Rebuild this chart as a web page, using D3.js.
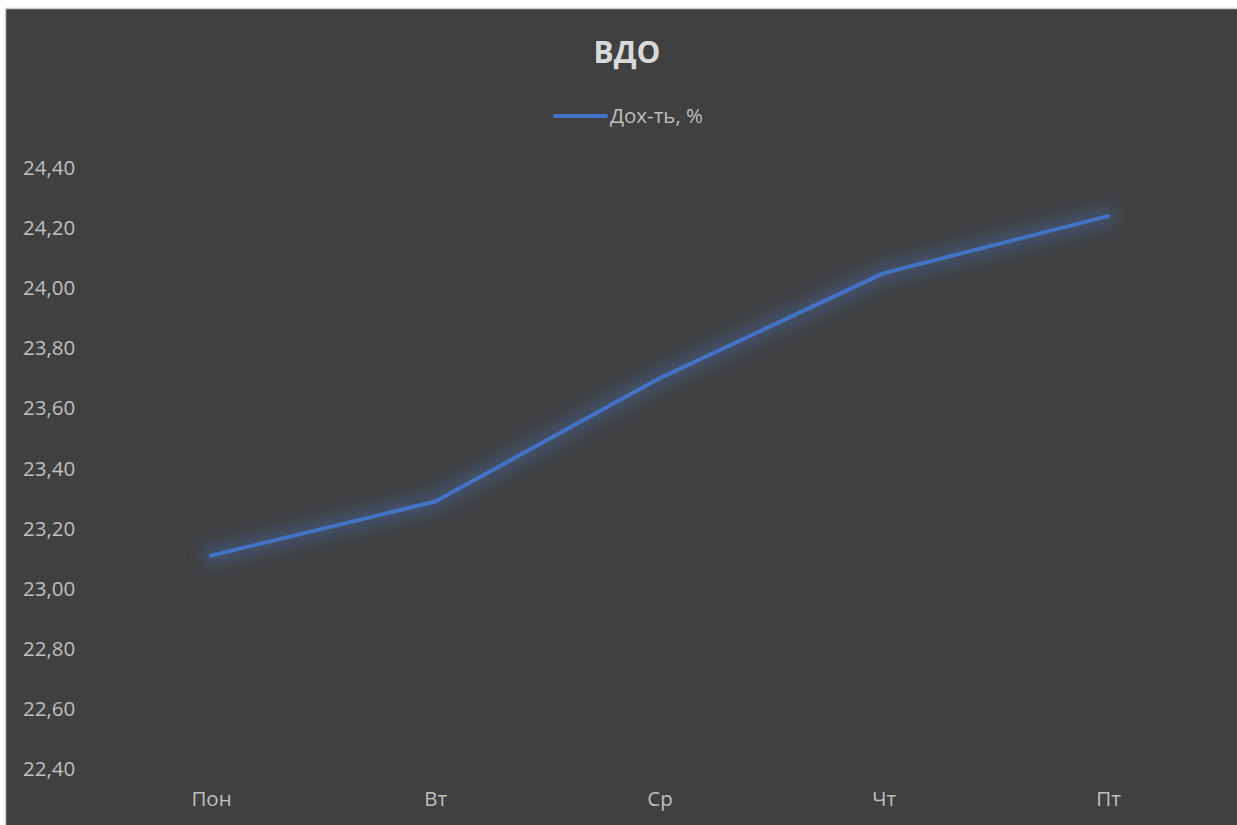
<!DOCTYPE html>
<html>
<head>
<meta charset="utf-8">
<script src="https://cdn.jsdelivr.net/npm/d3@7"></script>
<style>
  html, body { margin: 0; padding: 0; background: #ffffff; }
  svg { display: block; }
</style>
</head>
<body>
<div id="chart"></div>
<script>
const days = ["Пон", "Вт", "Ср", "Чт", "Пт"];
const yieldPct = [23.11, 23.29, 23.70, 24.05, 24.24];
const yTicks = [22.4, 22.6, 22.8, 23.0, 23.2, 23.4, 23.6, 23.8, 24.0, 24.2, 24.4];
const seriesName = "Дох-ть, %";
const title = "ВДО";

const width = 1237;
const height = 825;
const font = "'Open Sans', 'Noto Sans', sans-serif";

const svg = d3.select("#chart")
  .append("svg")
  .attr("width", width)
  .attr("height", height);

// chart area with thin light frame
svg.append("rect")
  .attr("x", 5.5).attr("y", 8.5)
  .attr("width", width).attr("height", height)
  .attr("fill", "#404040")
  .attr("stroke", "#d0d0d0")
  .attr("stroke-width", 1.5);

const defs = svg.append("defs");
const glow = defs.append("filter")
  .attr("id", "glow")
  .attr("x", "-10%").attr("y", "-30%")
  .attr("width", "120%").attr("height", "160%");
glow.append("feGaussianBlur").attr("in", "SourceGraphic").attr("stdDeviation", 8);

const x = d3.scalePoint().domain(days).range([211, 1108]);
const y = d3.scaleLinear().domain([22.4, 24.4]).range([769, 168]);

// title
svg.append("text")
  .attr("x", 627).attr("y", 63)
  .attr("text-anchor", "middle")
  .attr("font-family", font)
  .attr("font-weight", "bold")
  .attr("font-size", 30)
  .attr("fill", "#d9d9d9")
  .text(title);

// legend
svg.append("line")
  .attr("x1", 555).attr("x2", 606)
  .attr("y1", 116).attr("y2", 116)
  .attr("stroke", "#4472c4")
  .attr("stroke-width", 4)
  .attr("stroke-linecap", "round");
svg.append("text")
  .attr("x", 610).attr("y", 123)
  .attr("font-family", font)
  .attr("font-size", 20.5)
  .attr("fill", "#bfbfbf")
  .text(seriesName);

// y axis labels (no lines)
const yAxis = d3.axisLeft(y)
  .tickValues(yTicks)
  .tickSize(0)
  .tickFormat(d => d3.format(".2f")(d).replace(".", ","));
const gy = svg.append("g").attr("transform", "translate(23,0)").call(yAxis);
gy.select(".domain").remove();
gy.selectAll("text")
  .attr("x", 0)
  .attr("text-anchor", "start")
  .attr("font-family", font)
  .attr("font-size", 20.5)
  .attr("fill", "#bfbfbf");

// x axis labels
const xAxis = d3.axisBottom(x).tickSize(0);
const gx = svg.append("g").attr("transform", "translate(0,789)").call(xAxis);
gx.select(".domain").remove();
gx.selectAll("text")
  .attr("dy", "0.7em")
  .attr("font-family", font)
  .attr("font-size", 20.5)
  .attr("fill", "#bfbfbf");

// line with glow
const line = d3.line()
  .x((d, i) => x(days[i]))
  .y(d => y(d));

svg.append("path")
  .datum(yieldPct)
  .attr("d", line)
  .attr("fill", "none")
  .attr("stroke", "#4472c4")
  .attr("stroke-opacity", 0.35)
  .attr("stroke-width", 20)
  .attr("stroke-linecap", "round")
  .attr("stroke-linejoin", "round")
  .attr("filter", "url(#glow)");

svg.append("path")
  .datum(yieldPct)
  .attr("d", line)
  .attr("fill", "none")
  .attr("stroke", "#4472c4")
  .attr("stroke-width", 4)
  .attr("stroke-linecap", "round")
  .attr("stroke-linejoin", "round");
</script>
</body>
</html>
